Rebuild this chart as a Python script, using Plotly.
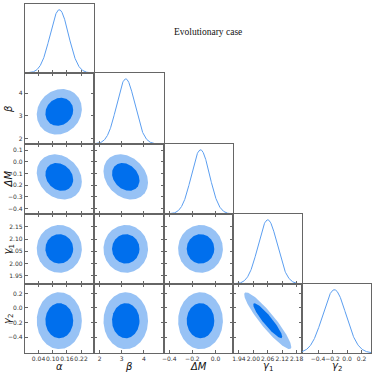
import numpy as np
import plotly.graph_objects as go

# ---------------- data ----------------
param_labels = ["<i>α</i>", "<i>β</i>", "<i>ΔM</i>",
                "<i>γ</i><sub>1</sub>", "<i>γ</i><sub>2</sub>"]
param_means = [0.128, 3.18, -0.13, 2.06, -0.175]
param_sigmas = [0.039, 0.41, 0.079, 0.040, 0.160]
param_correlations = [
    [1.00, 0.12, -0.20, 0.00, 0.00],
    [0.12, 1.00, -0.25, 0.00, 0.00],
    [-0.20, -0.25, 1.00, 0.00, 0.00],
    [0.00, 0.00, 0.00, 1.00, -0.92],
    [0.00, 0.00, 0.00, -0.92, 1.00],
]
confidence_levels = [0.68, 0.95]
axis_ranges = [[-0.018, 0.276], [1.76, 4.89], [-0.448, 0.152],
               [1.916, 2.203], [-0.62, 0.33]]
x_tick_vals = [[0.04, 0.10, 0.16, 0.22], [2, 3, 4], [-0.4, -0.2, 0.0],
               [1.94, 2.00, 2.06, 2.12, 2.18], [-0.4, -0.2, 0.0, 0.2]]
x_tick_text = [["0.04", "0.10", "0.16", "0.22"], ["2", "3", "4"],
               ["−0.4", "−0.2", "0.0"],
               ["1.94", "2.00", "2.06", "2.12", "2.18"],
               ["−0.4", "−0.2", "0.0", "0.2"]]
y_tick_vals = [[], [2, 3, 4], [0.1, 0.0, -0.1, -0.2, -0.3, -0.4],
               [1.95, 2.00, 2.05, 2.10, 2.15], [0.2, 0.0, -0.2, -0.4]]
y_tick_text = [[], ["2", "3", "4"],
               ["0.1", "0.0", "−0.1", "−0.2", "−0.3", "−0.4"],
               ["1.95", "2.00", "2.05", "2.10", "2.15"],
               ["0.2", "0.0", "−0.2", "−0.4"]]
title_text = "Evolutionary case"

# ---------------- styling / layout ----------------
W, H = 375, 374
col_edges = [23, 93, 163, 233, 302.5, 372]
row_edges = [4, 73, 144, 214, 284, 353]
dark_blue = "#006FED"
light_blue = "#97C2F5"
line_blue = "#5B9EF0"
frame = "#666666"
tick_font = dict(family="DejaVu Sans", size=6, color="#333333")
label_font = dict(family="DejaVu Sans", size=10, color="#111111")

means = np.array(param_means)
sig = np.array(param_sigmas)
cov = np.array(param_correlations) * np.outer(sig, sig)

fig = go.Figure()
layout = {}
n = len(param_labels)
k = 0
for i in range(n):
    for j in range(i + 1):
        k += 1
        sfx = "" if k == 1 else str(k)
        xref, yref = "x" + sfx, "y" + sfx
        xdom = [col_edges[j] / W, col_edges[j + 1] / W]
        ydom = [1 - row_edges[i + 1] / H, 1 - row_edges[i] / H]
        diag = (i == j)
        if diag:
            lo = max(axis_ranges[j][0], means[j] - 3.6 * sig[j])
            hi = min(axis_ranges[j][1], means[j] + 3.6 * sig[j])
            xs = np.linspace(lo, hi, 300)
            ys = np.exp(-0.5 * ((xs - means[j]) / sig[j]) ** 2)
            fig.add_trace(go.Scatter(x=xs, y=ys, mode="lines",
                                     line=dict(color=line_blue, width=1),
                                     xaxis=xref, yaxis=yref,
                                     hoverinfo="skip", showlegend=False))
        else:
            sub = cov[np.ix_([j, i], [j, i])]
            L = np.linalg.cholesky(sub)
            t = np.linspace(0, 2 * np.pi, 240)
            circ = np.vstack([np.cos(t), np.sin(t)])
            for p, col in zip(sorted(confidence_levels, reverse=True),
                              [light_blue, dark_blue]):
                r = np.sqrt(-2 * np.log(1 - p))
                pts = (L @ circ) * r
                fig.add_trace(go.Scatter(
                    x=means[j] + pts[0], y=means[i] + pts[1], mode="lines",
                    fill="toself", fillcolor=col,
                    line=dict(color=col, width=0),
                    xaxis=xref, yaxis=yref,
                    hoverinfo="skip", showlegend=False))

        xa = dict(domain=xdom, anchor=yref, range=axis_ranges[j],
                  showline=True, linecolor=frame, linewidth=1,
                  mirror=True if diag else "ticks",
                  ticks="inside", ticklen=3, tickwidth=1, tickcolor=frame,
                  tickvals=x_tick_vals[j], ticktext=x_tick_text[j],
                  showticklabels=(i == n - 1), tickangle=0,
                  tickfont=tick_font, showgrid=False, zeroline=False,
                  fixedrange=True)
        if diag:
            ya = dict(domain=ydom, anchor=xref, range=[0, 1.09],
                      showline=True, linecolor=frame, linewidth=1,
                      mirror=True, ticks="", showticklabels=False,
                      showgrid=False, zeroline=False, fixedrange=True)
        else:
            ya = dict(domain=ydom, anchor=xref, range=axis_ranges[i],
                      showline=True, linecolor=frame, linewidth=1,
                      mirror="ticks", ticks="inside", ticklen=3,
                      tickwidth=1, tickcolor=frame,
                      tickvals=y_tick_vals[i], ticktext=y_tick_text[i],
                      showticklabels=(j == 0), tickfont=tick_font,
                      showgrid=False, zeroline=False, fixedrange=True)
        layout["xaxis" + sfx] = xa
        layout["yaxis" + sfx] = ya

annotations = []
for j in range(n):
    cx = (col_edges[j] + col_edges[j + 1]) / 2 / W
    annotations.append(dict(text=param_labels[j], x=cx, y=1 - 366.5 / H,
                            xref="paper", yref="paper", showarrow=False,
                            xanchor="center", yanchor="middle",
                            font=label_font))
for i in range(1, n):
    cy = 1 - (row_edges[i] + row_edges[i + 1]) / 2 / H
    annotations.append(dict(text=param_labels[i], x=6.5 / W, y=cy,
                            xref="paper", yref="paper", showarrow=False,
                            xanchor="center", yanchor="middle",
                            textangle=-90, font=label_font))
annotations.append(dict(text=title_text, x=208 / W, y=1 - 32 / H,
                        xref="paper", yref="paper", showarrow=False,
                        xanchor="center", yanchor="middle",
                        font=dict(family="Liberation Serif", size=9.5,
                                  color="#111111")))

fig.update_layout(width=W, height=H, autosize=False,
                  margin=dict(l=0, r=0, t=0, b=0),
                  paper_bgcolor="white", plot_bgcolor="white",
                  showlegend=False, annotations=annotations, **layout)

fig.write_html("out.html", config={"displayModeBar": False},
               post_script="document.body.style.margin='0';"
                           "document.body.style.overflow='hidden';")
